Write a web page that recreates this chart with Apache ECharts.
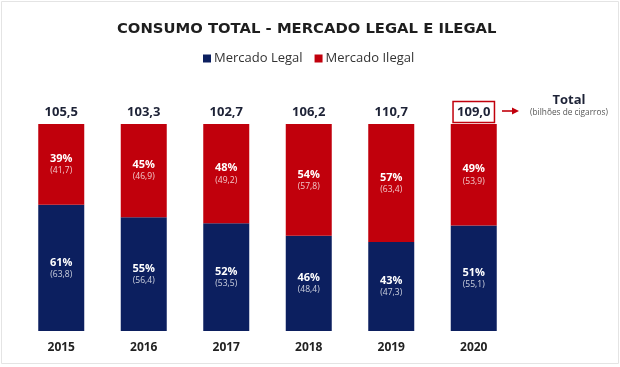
<!DOCTYPE html>
<html>
<head>
<meta charset="utf-8">
<script src="https://cdn.jsdelivr.net/npm/echarts@6/dist/echarts.min.js"></script>
<style>
html,body{margin:0;padding:0;background:#fff;}
#c{width:620px;height:367px;}
</style>
</head>
<body>
<div id="c"></div>
<script>
const years = ['2015', '2016', '2017', '2018', '2019', '2020'];
const pctLegal = [61, 55, 52, 46, 43, 51];
const pctIllegal = [39, 45, 48, 54, 57, 49];
const volLegal = [63.8, 56.4, 53.5, 48.4, 47.3, 55.1];
const volIllegal = [41.7, 46.9, 49.2, 57.8, 63.4, 53.9];
const totals = [105.5, 103.3, 102.7, 106.2, 110.7, 109.0];
const highlightIndex = 5;

const BLUE = '#0c1f5f';
const RED = '#c1000c';
const fmt = v => v.toFixed(1).replace('.', ',');

const innerRich = {
  p: { color: '#fff', fontFamily: 'Open Sans', fontWeight: 'bold', fontSize: 11, lineHeight: 13 },
  v: { color: 'rgba(255,255,255,0.78)', fontFamily: 'Open Sans', fontSize: 8.5, lineHeight: 11 }
};

const chart = echarts.init(document.getElementById('c'), null, { renderer: 'canvas' });
chart.setOption({
  animation: false,
  backgroundColor: '#fff',
  title: {
    text: 'CONSUMO TOTAL - MERCADO LEGAL E ILEGAL',
    left: 112,
    top: 17,
    textStyle: { fontFamily: 'DejaVu Sans', fontWeight: 'bold', fontSize: 14.8, color: '#1e1e1e' }
  },
  legend: {
    top: 47,
    left: 198,
    icon: 'rect',
    itemWidth: 8,
    itemHeight: 8,
    itemGap: 12,
    textStyle: { fontFamily: 'Open Sans', fontSize: 13, color: '#333', padding: [0, 0, 0, -2] },
    data: ['Mercado Legal', 'Mercado Ilegal']
  },
  grid: { left: 20, right: 105, top: 124, bottom: 36 },
  xAxis: {
    type: 'category',
    data: years,
    axisLine: { show: false },
    axisTick: { show: false },
    axisLabel: { margin: 11, fontFamily: 'Open Sans', fontWeight: 'bold', fontSize: 12, color: '#222' }
  },
  yAxis: {
    type: 'value', min: 0, max: 100, show: false,
    splitLine: { show: false }
  },
  series: [
    {
      name: 'Mercado Legal', type: 'bar', stack: 's', barWidth: 46,
      itemStyle: { color: BLUE },
      data: pctLegal,
      label: {
        show: true, position: 'inside',
        formatter: p => '{p|' + pctLegal[p.dataIndex] + '%}\n{v|(' + fmt(volLegal[p.dataIndex]) + ')}',
        rich: innerRich
      }
    },
    {
      name: 'Mercado Ilegal', type: 'bar', stack: 's', barWidth: 46,
      itemStyle: { color: RED },
      data: pctIllegal,
      label: {
        show: true, position: 'inside',
        formatter: p => '{p|' + pctIllegal[p.dataIndex] + '%}\n{v|(' + fmt(volIllegal[p.dataIndex]) + ')}',
        rich: innerRich
      }
    },
    {
      name: 'total', type: 'bar', stack: 's', barWidth: 46,
      itemStyle: { color: 'transparent' },
      data: totals.map(() => 0),
      tooltip: { show: false },
      label: {
        show: true, position: 'top', distance: 4,
        formatter: p => (p.dataIndex === highlightIndex ? '{b|' : '{n|') + fmt(totals[p.dataIndex]) + '}',
        rich: {
          n: { fontFamily: 'Open Sans', fontWeight: 'bold', fontSize: 13, color: '#1d2236', padding: [4, 5, 4, 5], lineHeight: 16 },
          b: { fontFamily: 'Open Sans', fontWeight: 'bold', fontSize: 13, color: '#1d2236', padding: [4, 4, 4, 4], lineHeight: 16, borderColor: RED, borderWidth: 1.5 }
        }
      }
    }
  ],
  graphic: [
    { type: 'rect', shape: { x: 1.5, y: 1.5, width: 617, height: 362 }, style: { fill: 'none', stroke: '#e4e4e4', lineWidth: 1 }, z: -1 },
    { type: 'line', shape: { x1: 502, y1: 111, x2: 513, y2: 111 }, style: { stroke: RED, lineWidth: 1.6 } },
    { type: 'polygon', shape: { points: [[512, 107.5], [519, 111], [512, 114.5]] }, style: { fill: RED } },
    { type: 'text', x: 569, y: 100, style: { text: 'Total', align: 'center', verticalAlign: 'middle', fontFamily: 'Open Sans', fontWeight: 'bold', fontSize: 13, fill: '#1d2236' } },
    { type: 'text', x: 569, y: 113, style: { text: '(bilhões de cigarros)', align: 'center', verticalAlign: 'middle', fontFamily: 'Open Sans', fontSize: 8.3, fill: '#555' } }
  ]
});
</script>
</body>
</html>
